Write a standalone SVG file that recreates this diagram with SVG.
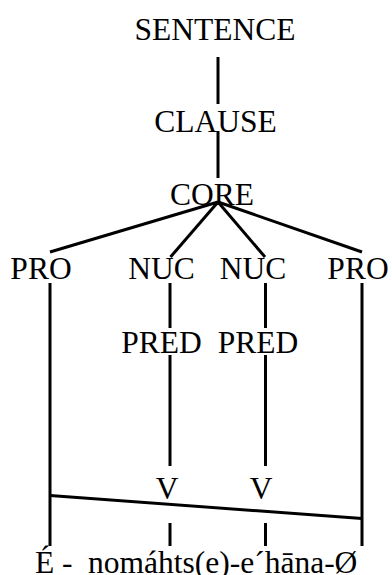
<svg xmlns="http://www.w3.org/2000/svg" width="392" height="575" viewBox="0 0 392 575">
<style>
.m{text-anchor:middle}
line{stroke:#000;stroke-width:3;stroke-linecap:butt}
</style>
<rect width="392" height="575" fill="#fff"/>
<g id="connectors">
<line x1="218" y1="57" x2="218" y2="104"/>
<line x1="218" y1="131" x2="218" y2="178"/>
<line x1="218" y1="202" x2="50" y2="252"/>
<line x1="218" y1="202" x2="170.5" y2="257"/>
<line x1="218" y1="202" x2="265" y2="257"/>
<line x1="218" y1="202" x2="362" y2="252"/>
<line x1="50" y1="283" x2="50" y2="546"/>
<line x1="170" y1="283" x2="170" y2="328"/>
<line x1="265.5" y1="283" x2="265.5" y2="328"/>
<line x1="362" y1="283" x2="362" y2="546"/>
<line x1="170" y1="355" x2="170" y2="466"/>
<line x1="265.5" y1="355" x2="265.5" y2="466"/>
<line x1="50" y1="495.5" x2="362" y2="518.5"/>
<line x1="170" y1="523" x2="170" y2="546"/>
<line x1="265.5" y1="523" x2="265.5" y2="546"/>
</g>
<g font-family="Liberation Serif, serif" font-size="31.5" fill="#000">
<g id="sentence"><text class="m" x="215" y="40">SENTENCE</text></g>
<g id="clause"><text class="m" x="215.5" y="132">CLAUSE</text></g>
<g id="core"><text class="m" x="212" y="205">CORE</text></g>
<g id="pro1"><text class="m" x="41" y="279">PRO</text></g>
<g id="nuc1"><text class="m" x="161.5" y="279">NUC</text></g>
<g id="nuc2"><text class="m" x="253" y="279">NUC</text></g>
<g id="pro2"><text class="m" x="358" y="279">PRO</text></g>
<g id="pred1"><text class="m" x="161.5" y="353">PRED</text></g>
<g id="pred2"><text class="m" x="258" y="353">PRED</text></g>
<g id="v1"><text class="m" x="167" y="499">V</text></g>
<g id="v2"><text class="m" x="261" y="499">V</text></g>
<g id="words"><text x="35" y="572.5">É -</text><text x="88" y="572.5">nomáhts(e)-e´hāna-Ø</text></g>
</g>
</svg>
